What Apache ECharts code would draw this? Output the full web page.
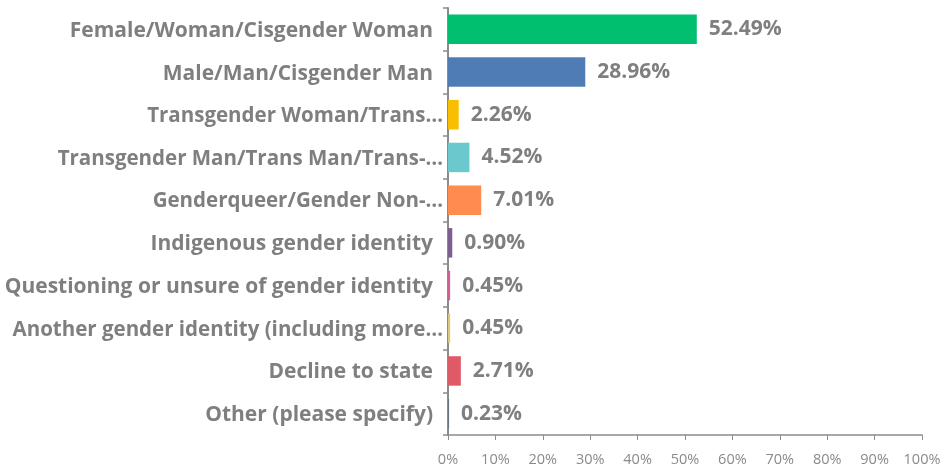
<!DOCTYPE html>
<html>
<head>
<meta charset="utf-8">
<script src="https://cdn.jsdelivr.net/npm/echarts@6/dist/echarts.min.js"></script>
<style>html,body{margin:0;padding:0;background:#fff}#c{width:946px;height:469px}</style>
</head>
<body>
<div id="c"></div>
<script>
const categories = [
  "Female/Woman/Cisgender Woman",
  "Male/Man/Cisgender Man",
  "Transgender Woman/Trans…",
  "Transgender Man/Trans Man/Trans-…",
  "Genderqueer/Gender Non-…",
  "Indigenous gender identity",
  "Questioning or unsure of gender identity",
  "Another gender identity (including more…",
  "Decline to state",
  "Other (please specify)"
];
const values = [52.49, 28.96, 2.26, 4.52, 7.01, 0.90, 0.45, 0.45, 2.71, 0.23];
const colors = ["#00BF6F", "#507CB6", "#F9BE00", "#6BC8CD", "#FF8B4F", "#7D5E90", "#D25F90", "#DBC87C", "#E05966", "#6A7682"];
const xTicks = [0, 10, 20, 30, 40, 50, 60, 70, 80, 90, 100];

const chart = echarts.init(document.getElementById('c'));
const gray = '#7f7f7f';
const FONT = 'Open Sans';
chart.setOption({
  animation: false,
  grid: { left: 448, right: 24, top: 8, bottom: 34, containLabel: false },
  xAxis: {
    type: 'value', min: xTicks[0], max: xTicks[xTicks.length - 1], interval: xTicks[1] - xTicks[0],
    splitLine: { show: false },
    axisLine: { show: true, lineStyle: { color: '#8c8c8c', width: 1.5 } },
    axisTick: { show: true, length: 5, lineStyle: { color: '#8c8c8c' } },
    axisLabel: { formatter: '{value}%', color: '#8a8a8a', fontFamily: FONT, fontSize: 14.5, margin: 17 }
  },
  yAxis: {
    type: 'category', data: categories, inverse: true,
    axisLine: { show: true, lineStyle: { color: '#8c8c8c', width: 2 } },
    axisTick: { show: true, length: 5, lineStyle: { color: '#8c8c8c', width: 1.5 } },
    axisLabel: {
      margin: 5,
      formatter: function (v) {
        return v.indexOf('…') >= 0 ? '{b|' + v + '}' : '{a|' + v + '}';
      },
      rich: {
        a: { color: gray, fontFamily: FONT, fontWeight: 'bold', fontSize: 21, padding: [3, 10, 0, 0] },
        b: { color: gray, fontFamily: FONT, fontWeight: 'bold', fontSize: 20.5, padding: [3, 0, 0, 0] }
      }
    }
  },
  series: [{
    type: 'bar',
    data: values.map((v, i) => ({ value: v, itemStyle: { color: colors[i] } })),
    barCategoryGap: '31%',
    label: {
      show: true, position: 'right', distance: 12, padding: [3, 0, 0, 0],
      formatter: p => p.value.toFixed(2) + '%',
      color: gray, fontFamily: FONT, fontWeight: 'bold', fontSize: 21
    }
  }]
});
</script>
</body>
</html>
